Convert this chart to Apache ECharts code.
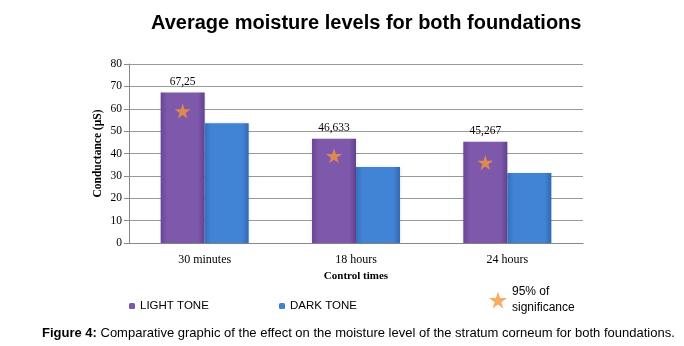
<!DOCTYPE html>
<html>
<head>
<meta charset="utf-8">
<script src="https://cdn.jsdelivr.net/npm/echarts@6/dist/echarts.min.js"></script>
<style>
  html, body { margin: 0; padding: 0; background: #fff; }
  #main { width: 684px; height: 346px; }
</style>
</head>
<body>
<div id="main"></div>
<script>
const categories = ["30 minutes", "18 hours", "24 hours"];
const lightTone = [67.25, 46.633, 45.267];
const darkTone = [53.5, 34, 31.3];
const significance = [59, 39, 36];
const yTicks = [0, 10, 20, 30, 40, 50, 60, 70, 80];

const STAR = "path://M50,0 L61,35 L98,35 L68,57 L79,91 L50,70 L21,91 L32,57 L2,35 L39,35 Z";
const serif = "'Liberation Serif', 'Times New Roman', serif";
const sans = "'Liberation Sans', Arial, sans-serif";

const chart = echarts.init(document.getElementById("main"));

const option = {
  backgroundColor: "#fff",
  animation: false,
  title: [
    {
      text: "Average moisture levels for both foundations",
      left: 146,
      top: 8,
      textStyle: { fontFamily: sans, fontSize: 20, fontWeight: "bold", color: "#000" },
    },
    {
      text: "{b|Figure 4:} Comparative graphic of the effect on the moisture level of the stratum corneum for both foundations.",
      left: 37,
      top: 322,
      textStyle: {
        fontFamily: sans,
        fontSize: 13,
        fontWeight: "normal",
        color: "#000",
        rich: { b: { fontFamily: sans, fontSize: 13, fontWeight: "bold", color: "#000" } },
      },
    },
  ],
  legend: [
    {
      data: ["LIGHT TONE"],
      left: 124,
      top: 295,
      itemWidth: 6,
      itemHeight: 6,
      textStyle: { fontFamily: sans, fontSize: 11.5, color: "#000" },
    },
    {
      data: ["DARK TONE"],
      left: 274,
      top: 295,
      itemWidth: 6,
      itemHeight: 6,
      textStyle: { fontFamily: sans, fontSize: 11.5, color: "#000" },
    },
    {
      data: [{ name: "95% of\nsignificance", icon: STAR }],
      left: 484,
      top: 279,
      itemWidth: 18,
      itemHeight: 17,
      itemGap: 6,
      textStyle: { fontFamily: sans, fontSize: 12, color: "#000", lineHeight: 16 },
    },
  ],
  grid: { left: 129, right: 101, top: 64, bottom: 103 },
  xAxis: {
    type: "category",
    data: categories,
    name: "Control times",
    nameLocation: "middle",
    nameGap: 28,
    nameMoveOverlap: false,
    nameTextStyle: { fontFamily: serif, fontSize: 11, fontWeight: "bold", color: "#000" },
    axisLine: { lineStyle: { color: "#888" } },
    axisTick: { show: false },
    axisLabel: {
      fontFamily: serif,
      fontSize: 12,
      color: "#000",
      margin: 11,
    },
  },
  yAxis: {
    type: "value",
    min: yTicks[0],
    max: yTicks[yTicks.length - 1],
    interval: 10,
    name: "Conductance (µS)",
    nameLocation: "middle",
    nameGap: 25,
    nameMoveOverlap: false,
    nameTextStyle: { fontFamily: serif, fontSize: 11.5, fontWeight: "bold", color: "#000" },
    axisLine: { show: true, lineStyle: { color: "#888" } },
    axisTick: { show: true, length: 5, lineStyle: { color: "#888" } },
    axisLabel: { fontFamily: serif, fontSize: 11.5, color: "#000", margin: 7 },
    splitLine: { lineStyle: { color: "#999", width: 1 } },
  },
  series: [
    {
      name: "LIGHT TONE",
      type: "bar",
      data: lightTone,
      barWidth: 44,
      barGap: "0%",
      itemStyle: {
        color: new echarts.graphic.LinearGradient(0, 0, 1, 0, [
          { offset: 0, color: "#6a4696" },
          { offset: 0.15, color: "#7d58ab" },
          { offset: 0.85, color: "#7d58ab" },
          { offset: 1, color: "#64428e" },
        ]),
        shadowColor: "rgba(0,0,0,0.15)",
        shadowBlur: 3,
      },
      label: {
        show: true,
        position: "top",
        distance: 5,
        fontFamily: serif,
        fontSize: 11.5,
        color: "#000",
        formatter: (p) => String(p.value).replace(".", ","),
      },
    },
    {
      name: "DARK TONE",
      type: "bar",
      data: darkTone,
      barWidth: 44,
      barGap: "0%",
      itemStyle: {
        color: new echarts.graphic.LinearGradient(0, 0, 1, 0, [
          { offset: 0, color: "#3570bd" },
          { offset: 0.15, color: "#4183d4" },
          { offset: 0.85, color: "#4183d4" },
          { offset: 1, color: "#3269b0" },
        ]),
        shadowColor: "rgba(0,0,0,0.15)",
        shadowBlur: 3,
      },
    },
    {
      name: "95% of\nsignificance",
      type: "scatter",
      data: significance,
      symbol: STAR,
      symbolSize: [16, 15],
      symbolOffset: [-22, 0],
      itemStyle: { color: "#f6963c" },
      z: 5,
    },
  ],
};

chart.setOption(option);
</script>
</body>
</html>
